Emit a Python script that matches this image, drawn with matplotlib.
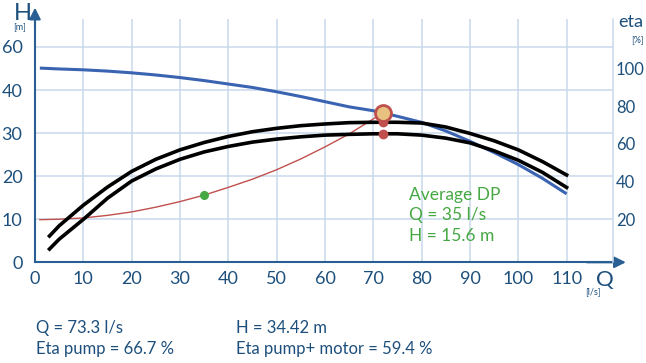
import matplotlib
matplotlib.use("Agg")
import matplotlib.pyplot as plt

plt.rcParams['font.family'] = ['Lato', 'DejaVu Sans']

# ── data ──────────────────────────────────────────────────────
q_pump = [1, 5, 10, 15, 20, 25, 30, 35, 40, 45, 50, 55, 60, 65, 70, 72,
          75, 80, 85, 90, 95, 100, 105, 110]
h_pump = [45.1, 44.9, 44.7, 44.4, 44.0, 43.5, 42.9, 42.2, 41.4, 40.6, 39.6,
          38.5, 37.3, 36.1, 35.2, 34.7, 33.9, 32.5, 30.5, 28.1, 25.5, 22.7,
          19.5, 15.9]

q_eta = [3, 5, 10, 15, 20, 25, 30, 35, 40, 45, 50, 55, 60, 65, 70, 75, 80,
         85, 90, 95, 100, 105, 110]
eta_pump = [11.2, 16.6, 27.5, 37.1, 45.4, 51.8, 56.8, 60.7, 63.9, 66.4, 68.2,
            69.6, 70.5, 71.2, 71.4, 71.4, 71.0, 68.9, 65.5, 61.6, 56.8, 50.6,
            43.5]
eta_total = [4.3, 9.5, 20.0, 31.2, 40.3, 46.7, 51.8, 55.7, 58.6, 60.9, 62.5,
             63.7, 64.6, 65.0, 65.3, 65.3, 64.6, 63.0, 60.5, 56.3, 51.3, 44.9,
             36.9]

q_sys = [1, 5, 10, 15, 20, 25, 30, 35, 40, 45, 50, 55, 60, 65, 70, 72]
h_sys = [9.9, 10.0, 10.3, 10.9, 11.7, 12.8, 14.1, 15.6, 17.4, 19.3, 21.5,
         24.0, 26.8, 29.8, 33.3, 34.7]

op_q, op_h = 72, 34.7
op_eta_pump, op_eta_total = 71.4, 65.3
dp_q, dp_h = 35, 15.6

x_ticks = list(range(0, 111, 10))
h_ticks = [0, 10, 20, 30, 40, 50]
h_labels = ['0', '10', '20', '30', '40', '60']
eta_ticks = [20, 40, 60, 80, 100]

result_lines = [("Q = 73.3 l/s", "H = 34.42 m"),
                ("Eta pump = 66.7 %", "Eta pump+ motor = 59.4 %")]
dp_text = "Average DP\nQ = 35 l/s\nH = 15.6 m"

# ── style ──────────────────────────────────────────────────────
NAVY = '#1d4f7c'
AXIS = '#2a5f93'
GRID = '#c9d9ea'
BLUE = '#3a64b2'
RED = '#c0504d'
GREEN = '#46a843'


def h_to_eta(h):
    # right axis is tied to the left one (eta 20 -> H 10.1, eta 100 -> H 45.1)
    return 2.286 * h - 3.09


fig = plt.figure(figsize=(6.46, 3.63), dpi=100)
ax = fig.add_axes([35 / 646, 1 - 262.3 / 363, 578 / 646, 243.3 / 363])
ax2 = ax.twinx()

ax.set_xlim(0.97, 119.6)
ax.set_ylim(0.16, 56.5)
ax2.set_ylim(h_to_eta(0.16), h_to_eta(56.5))

# grid
for q in x_ticks[1:]:
    ax.axvline(q, color=GRID, lw=1.1, zorder=0)
for h in h_ticks[1:]:
    ax.axhline(h, color=GRID, lw=1.1, zorder=0)

# curves
ax.plot(q_sys, h_sys, color=RED, lw=1.0, zorder=2)
ax.plot(q_pump, h_pump, color=BLUE, lw=2.2, zorder=3, solid_capstyle='butt')
ax2.plot(q_eta, eta_pump, color='black', lw=2.6, zorder=3)
ax2.plot(q_eta, eta_total, color='black', lw=2.6, zorder=3)

ax2.plot([op_q], [op_eta_pump], 'o', color=RED, ms=6, zorder=5)
ax2.plot([op_q], [op_eta_total], 'o', color=RED, ms=6, zorder=5)
ax2.plot([op_q], [h_to_eta(op_h)], 'o', ms=11.5, mfc='#e8c07f', mec=RED,
         mew=2, zorder=6)
ax.plot([dp_q], [dp_h], 'o', color=GREEN, ms=5.5, zorder=4)

ax.text(77.4, 10.9, dp_text, color=GREEN, fontsize=12.5, linespacing=1.32,
        va='center', ha='left')

# spines
for s in ['top', 'right']:
    ax.spines[s].set_visible(False)
for s in ['top', 'left', 'bottom']:
    ax2.spines[s].set_visible(False)
ax2.spines['right'].set_color(GRID)
ax2.spines['right'].set_linewidth(1.1)
ax.spines['left'].set_color(AXIS)
ax.spines['bottom'].set_color(AXIS)
ax.spines['left'].set_linewidth(1.5)
ax.spines['bottom'].set_linewidth(1.5)

ax.annotate('', xy=(0, 1.058), xytext=(0, 0.95), xycoords='axes fraction',
            arrowprops=dict(arrowstyle='-|>', color=AXIS, lw=1.5, mutation_scale=17),
            annotation_clip=False)
ax.annotate('', xy=(1.027, 0), xytext=(0.95, 0), xycoords='axes fraction',
            arrowprops=dict(arrowstyle='-|>', color=AXIS, lw=1.5, mutation_scale=17),
            annotation_clip=False)

# ticks
ax.set_xticks(x_ticks)
ax.set_yticks(h_ticks)
ax.set_yticklabels(h_labels)
ax2.set_yticks(eta_ticks)
ax.tick_params(length=0, labelsize=13, colors=NAVY, pad=9)
ax.tick_params(axis='x', pad=6)
ax2.tick_params(length=0, labelsize=12, colors=NAVY, pad=2)

# axis titles
fig.text(14 / 646, 1 - 14 / 363, 'H', color=NAVY, fontsize=17, ha='left', va='center')
fig.text(20 / 646, 1 - 28 / 363, '[m]', color=NAVY, fontsize=6.5, ha='center', va='center')
fig.text(631 / 646, 1 - 22 / 363, 'eta', color=NAVY, fontsize=13, ha='center', va='center')
fig.text(637 / 646, 1 - 40 / 363, '[%]', color=NAVY, fontsize=6.5, ha='center', va='center')
fig.text(605 / 646, 1 - 280 / 363, 'Q', color=NAVY, fontsize=16, ha='center', va='center')
fig.text(593 / 646, 1 - 292 / 363, '[l/s]', color=NAVY, fontsize=6.5, ha='center', va='center')

# results below the chart
for i, (left, right) in enumerate(result_lines):
    y = 1 - (328 + 21 * i) / 363
    fig.text(36 / 646, y, left, color=NAVY, fontsize=12, va='center')
    fig.text(236 / 646, y, right, color=NAVY, fontsize=12, va='center')

fig.savefig('out.png', dpi=100)
